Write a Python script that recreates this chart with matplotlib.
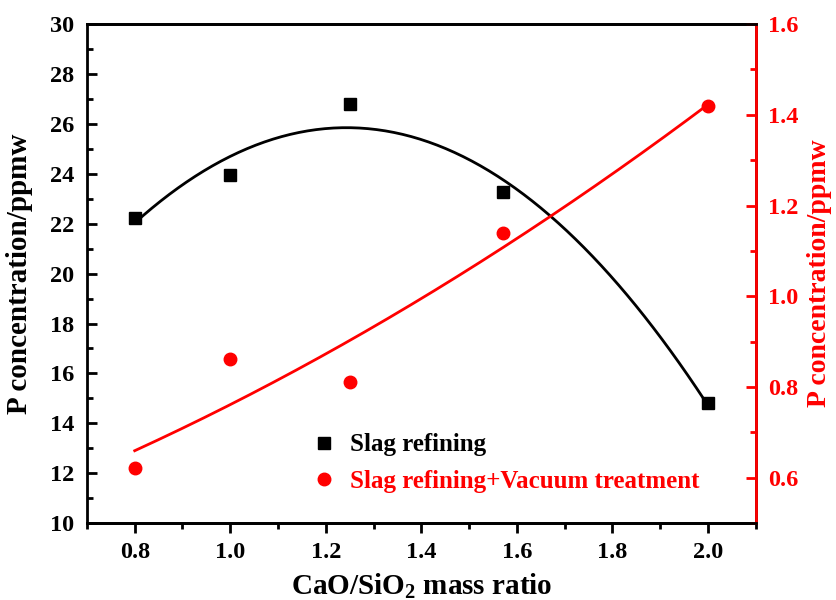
import matplotlib
matplotlib.use('Agg')
import matplotlib.pyplot as plt
import numpy as np
from matplotlib.ticker import MultipleLocator
from matplotlib.lines import Line2D

plt.rcParams['font.family'] = ['Liberation Serif', 'DejaVu Serif']
plt.rcParams['font.weight'] = 'bold'
plt.rcParams['mathtext.fontset'] = 'custom'
plt.rcParams['mathtext.rm'] = 'Liberation Serif:bold'
plt.rcParams['mathtext.bf'] = 'Liberation Serif:bold'

# data
ratio = [0.8, 1.0, 1.25, 1.57, 2.0]
p_slag = [22.24, 23.95, 26.8, 23.25, 14.82]
p_vacuum = [0.622, 0.861, 0.811, 1.14, 1.419]

# fitted curves (quadratic fits of the measured points)
x_fit = np.linspace(min(ratio), max(ratio), 200)
slag_fit = np.polyval(np.polyfit(ratio, p_slag, 2), x_fit)
vac_fit = np.polyval(np.polyfit(ratio, p_vacuum, 2), x_fit)

fig = plt.figure(figsize=(8.36, 6.0), dpi=100)
ax = fig.add_axes([0.104, 0.128, 0.8, 0.832])
ax2 = ax.twinx()

ax.plot(x_fit, slag_fit, color='black', lw=2)
ax.plot(ratio, p_slag, 's', color='black', ms=8)
ax2.plot(x_fit, vac_fit, color='red', lw=2)
ax2.plot(ratio, p_vacuum, 'o', color='red', ms=9)

ax.set_xlim(0.7, 2.1)
ax.set_ylim(10, 30)
ax2.set_ylim(0.5, 1.6)

ax.xaxis.set_major_locator(MultipleLocator(0.2))
ax.xaxis.set_minor_locator(MultipleLocator(0.1))
ax.yaxis.set_major_locator(MultipleLocator(2))
ax.yaxis.set_minor_locator(MultipleLocator(1))
ax2.yaxis.set_major_locator(MultipleLocator(0.2))
ax2.yaxis.set_minor_locator(MultipleLocator(0.1))
ax.xaxis.set_major_formatter(plt.FormatStrFormatter('%.1f'))
ax2.yaxis.set_major_formatter(plt.FormatStrFormatter('%.1f'))

for a_ in (ax, ax2):
    for s in a_.spines.values():
        s.set_linewidth(2)
ax2.spines['right'].set_color('red')
ax2.spines['left'].set_visible(False)

# y ticks point inward, x ticks outward
ax.tick_params(axis='x', which='both', direction='out', width=2, labelsize=17.5, pad=6, top=False)
ax.tick_params(axis='y', which='both', direction='in', width=2, labelsize=17.5, pad=9, right=False)
ax.tick_params(which='major', length=7.5)
ax.tick_params(which='minor', length=4)
ax2.tick_params(axis='y', which='both', direction='in', width=2, labelsize=17.5, pad=9, colors='red')
ax2.tick_params(which='major', length=7.5)
ax2.tick_params(which='minor', length=4)
for lab in ax.get_xticklabels() + ax.get_yticklabels() + ax2.get_yticklabels():
    lab.set_fontweight('bold')

ax.set_xlabel('CaO/SiO$_2$ mass ratio', fontsize=21, fontweight='bold', labelpad=6)
ax.set_ylabel('P concentration/ppmw', fontsize=21, fontweight='bold', labelpad=12)
ax2.set_ylabel('P concentration/ppmw', fontsize=20, fontweight='bold', color='red', labelpad=6)

handles = [Line2D([], [], marker='s', color='black', ls='none', ms=8),
           Line2D([], [], marker='o', color='red', ls='none', ms=9)]
leg = ax.legend(handles, ['Slag refining', 'Slag refining+Vacuum treatment'],
                loc='upper left', bbox_to_anchor=(0.295, 0.225), frameon=False,
                prop={'size': 18, 'weight': 'bold'}, handletextpad=0.35,
                handlelength=1.4, labelspacing=0.55, labelcolor=['black', 'red'])

fig.savefig('out.png', dpi=100)
